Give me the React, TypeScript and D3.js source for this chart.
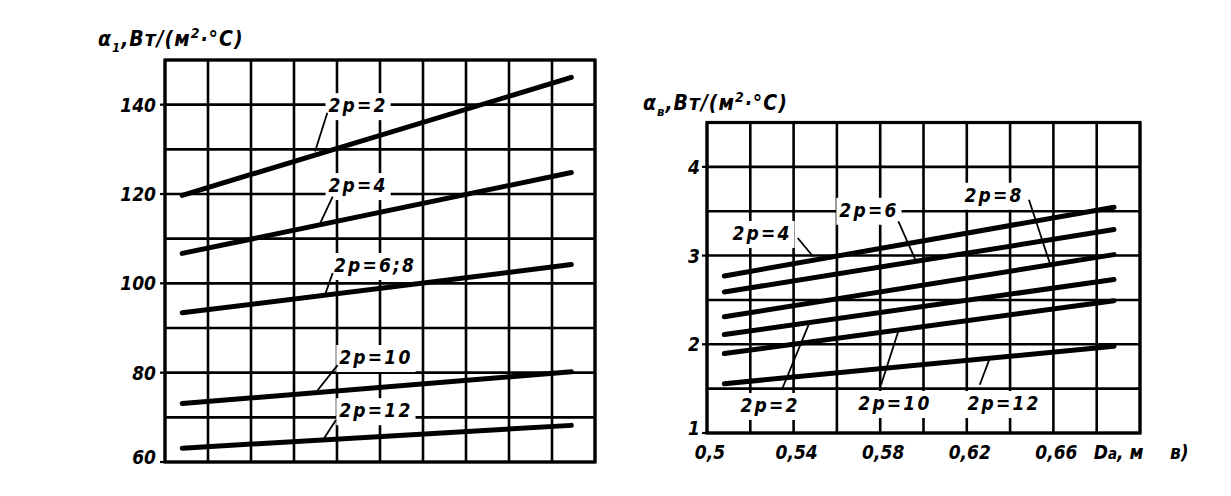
import React, { useEffect, useRef } from "react";
import * as d3 from "d3";

const W = 1231;
const H = 496;

// ---------- Data: left chart (α1 vs Da) ----------
const leftNames = ["2p=2", "2p=4", "2p=6;8", "2p=10", "2p=12"];
const leftDa = [0.508, 0.689];
const alpha1Start = [119.7, 106.7, 93.4, 73.1, 63.1];
const alpha1End = [146.1, 124.8, 104.2, 80.2, 68.2];
const leftYTicks = [60, 80, 100, 120, 140];

// ---------- Data: right chart (αв vs Da) ----------
const rightNames = ["2p=4", "2p=6", "2p=8", "2p=2", "2p=10", "2p=12"];
const rightDa = [0.508, 0.688];
const alphaVStart = [2.77, 2.59, 2.31, 2.11, 1.895, 1.556];
const alphaVEnd = [3.545, 3.293, 3.011, 2.73, 2.49, 1.977];
const rightYTicks = [1, 2, 3, 4];
const xTickValues = [0.5, 0.54, 0.58, 0.62, 0.66];
const xTickLabels = ["0,5", "0,54", "0,58", "0,62", "0,66"];

// ---------- Label placement (in data units) ----------
const leftLabelPos = [
  { tx: 0.5898, ty: 139.9, x1: 0.5755, y1: 138.2, x2: 0.5698, y2: 129.5 },
  { tx: 0.5898, ty: 122.0, x1: 0.578, y1: 119.4, x2: 0.5723, y2: 113.6 },
  { tx: 0.5977, ty: 104.1, x1: 0.578, y1: 102.3, x2: 0.5747, y2: 97.8 },
  { tx: 0.5981, ty: 83.5, x1: 0.5803, y1: 81.7, x2: 0.5707, y2: 75.9 },
  { tx: 0.5981, ty: 71.6, x1: 0.5795, y1: 69.4, x2: 0.574, y2: 65.3 },
];
const rightLabelPos = [
  { tx: 0.5254, ty: 3.255, x1: 0.5419, y1: 3.198, x2: 0.549, y2: 2.99 },
  { tx: 0.5748, ty: 3.516, x1: 0.5884, y1: 3.385, x2: 0.5963, y2: 2.95 },
  { tx: 0.6326, ty: 3.685, x1: 0.6487, y1: 3.629, x2: 0.6584, y2: 2.91 },
  { tx: 0.5291, ty: 1.316, x1: 0.5349, y1: 1.507, x2: 0.5471, y2: 2.23 },
  { tx: 0.5868, ty: 1.338, x1: 0.5804, y1: 1.544, x2: 0.5884, y2: 2.15 },
  { tx: 0.6372, ty: 1.338, x1: 0.626, y1: 1.544, x2: 0.6304, y2: 1.83 },
];

const FONT =
  "'DejaVu Sans Condensed','Liberation Sans Narrow','Liberation Sans',Arial,sans-serif";

type Sel = d3.Selection<SVGGElement, unknown, null, undefined>;

function boxedLabel(g: Sel, x: number, y: number, text: string) {
  const t = g
    .append("text")
    .attr("x", x)
    .attr("y", y)
    .attr("text-anchor", "middle")
    .attr("dominant-baseline", "central")
    .attr("font-family", FONT)
    .attr("font-weight", "bold")
    .attr("font-style", "italic")
    .attr("font-size", 19)
    .attr("letter-spacing", 2.2)
    .attr("fill", "#000")
    .text(text);
  const b = (t.node() as SVGTextElement).getBBox();
  g.insert("rect", () => t.node() as any)
    .attr("x", b.x - 3)
    .attr("y", b.y - 1)
    .attr("width", b.width + 6)
    .attr("height", b.height + 5)
    .attr("fill", "#fff");
}

function drawPanel(
  root: d3.Selection<SVGSVGElement, unknown, null, undefined>,
  opts: {
    x0: number;
    x1: number;
    yTop: number;
    yBot: number;
    yDomain: [number, number];
    yStep: number;
    yTicks: number[];
    yLabelGap: number;
    names: string[];
    da: number[];
    start: number[];
    end: number[];
    labels: { tx: number; ty: number; x1: number; y1: number; x2: number; y2: number }[];
  }
) {
  const g = root.append("g") as unknown as Sel;
  const x = d3.scaleLinear().domain([0.5, 0.7]).range([opts.x0, opts.x1]);
  const y = d3.scaleLinear().domain(opts.yDomain).range([opts.yBot, opts.yTop]);

  const xs = d3.range(0, 11).map((i) => 0.5 + i * 0.02);
  const nY = Math.round((opts.yDomain[1] - opts.yDomain[0]) / opts.yStep);
  const ys = d3.range(0, nY + 1).map((i) => opts.yDomain[0] + i * opts.yStep);

  // grid
  g.selectAll("line.vg")
    .data(xs)
    .join("line")
    .attr("x1", (d) => x(d))
    .attr("x2", (d) => x(d))
    .attr("y1", opts.yTop)
    .attr("y2", opts.yBot)
    .attr("stroke", "#000")
    .attr("stroke-width", 2.6);
  g.selectAll("line.hg")
    .data(ys)
    .join("line")
    .attr("x1", opts.x0)
    .attr("x2", opts.x1)
    .attr("y1", (d) => y(d))
    .attr("y2", (d) => y(d))
    .attr("stroke", "#000")
    .attr("stroke-width", 2.6);
  // frame
  g.append("rect")
    .attr("x", opts.x0)
    .attr("y", opts.yTop)
    .attr("width", opts.x1 - opts.x0)
    .attr("height", opts.yBot - opts.yTop)
    .attr("fill", "none")
    .attr("stroke", "#000")
    .attr("stroke-width", 3.2);

  // y tick stubs + labels
  opts.yTicks.forEach((v) => {
    g.append("line")
      .attr("x1", opts.x0 - 5)
      .attr("x2", opts.x0)
      .attr("y1", y(v))
      .attr("y2", y(v))
      .attr("stroke", "#000")
      .attr("stroke-width", 2.2);
    g.append("text")
      .attr("x", opts.x0 - opts.yLabelGap)
      .attr("y", Math.min(y(v), opts.yBot - 5))
      .attr("text-anchor", "end")
      .attr("dominant-baseline", "central")
      .attr("font-family", FONT)
      .attr("font-weight", "bold")
      .attr("font-style", "italic")
      .attr("font-size", 19)
      .attr("fill", "#000")
      .text(String(v));
  });

  // data lines
  const line = d3
    .line<[number, number]>()
    .x((d) => x(d[0]))
    .y((d) => y(d[1]));
  opts.names.forEach((_, i) => {
    const pts: [number, number][] = [
      [opts.da[0], opts.start[i]],
      [opts.da[1], opts.end[i]],
    ];
    g.append("path")
      .attr("d", line(pts) as string)
      .attr("fill", "none")
      .attr("stroke", "#000")
      .attr("stroke-width", 5)
      .attr("stroke-linecap", "round");
  });

  // labels
  opts.names.forEach((name, i) => {
    const p = opts.labels[i];
    boxedLabel(g, x(p.tx), y(p.ty), name);
    g.append("line")
      .attr("x1", x(p.x1))
      .attr("y1", y(p.y1))
      .attr("x2", x(p.x2))
      .attr("y2", y(p.y2))
      .attr("stroke", "#000")
      .attr("stroke-width", 1.8);
  });

  return { g, x, y };
}

function title(
  root: d3.Selection<SVGSVGElement, unknown, null, undefined>,
  x: number,
  y: number,
  sub: string
) {
  const t = root
    .append("text")
    .attr("x", x)
    .attr("y", y)
    .attr("font-family", FONT)
    .attr("font-weight", "bold")
    .attr("font-style", "italic")
    .attr("font-size", 21)
    .attr("letter-spacing", 1)
    .attr("fill", "#000");
  t.append("tspan").text("α");
  t.append("tspan").attr("dy", 6).attr("font-size", 13).text(sub);
  t.append("tspan").attr("dy", -6).text(",Вт/(м");
  t.append("tspan").attr("dy", -8).attr("font-size", 14).text("2");
  t.append("tspan").attr("dy", 8).text("·°С)");
}

export default function App() {
  const ref = useRef<SVGSVGElement | null>(null);
  useEffect(() => {
    const svg = d3.select(ref.current as SVGSVGElement);
    svg.selectAll("*").remove();
    svg.append("rect").attr("width", W).attr("height", H).attr("fill", "#fff");

    drawPanel(svg, {
      x0: 165,
      x1: 595,
      yTop: 60,
      yBot: 462,
      yDomain: [60, 150],
      yStep: 10,
      yTicks: leftYTicks,
      yLabelGap: 9,
      names: leftNames,
      da: leftDa,
      start: alpha1Start,
      end: alpha1End,
      labels: leftLabelPos,
    });
    title(svg, 98, 46, "1");

    const right = drawPanel(svg, {
      x0: 707,
      x1: 1140,
      yTop: 122.5,
      yBot: 433,
      yDomain: [1, 4.5],
      yStep: 0.5,
      yTicks: rightYTicks,
      yLabelGap: 7,
      names: rightNames,
      da: rightDa,
      start: alphaVStart,
      end: alphaVEnd,
      labels: rightLabelPos,
    });
    title(svg, 643, 110, "в");

    xTickValues.forEach((v, i) => {
      svg
        .append("text")
        .attr("x", right.x(v) + 3)
        .attr("y", 459)
        .attr("text-anchor", "middle")
        .attr("font-family", FONT)
        .attr("font-weight", "bold")
        .attr("font-style", "italic")
        .attr("font-size", 19)
        .attr("fill", "#000")
        .text(xTickLabels[i]);
    });
    const axisT = svg
      .append("text")
      .attr("x", right.x(0.68) - 3)
      .attr("y", 459)
      .attr("font-family", FONT)
      .attr("font-weight", "bold")
      .attr("font-style", "italic")
      .attr("font-size", 19)
      .attr("fill", "#000");
    axisT.append("tspan").text("D");
    axisT.append("tspan").attr("font-size", 15).text("а");
    axisT.append("tspan").text(", м");
    svg
      .append("text")
      .attr("x", 1170)
      .attr("y", 459)
      .attr("font-family", FONT)
      .attr("font-weight", "bold")
      .attr("font-style", "italic")
      .attr("font-size", 19)
      .attr("fill", "#000")
      .text("в)");
  }, []);

  return (
    <svg
      ref={ref}
      width={W}
      height={H}
      style={{ position: "absolute", left: 0, top: 0, display: "block" }}
    />
  );
}
